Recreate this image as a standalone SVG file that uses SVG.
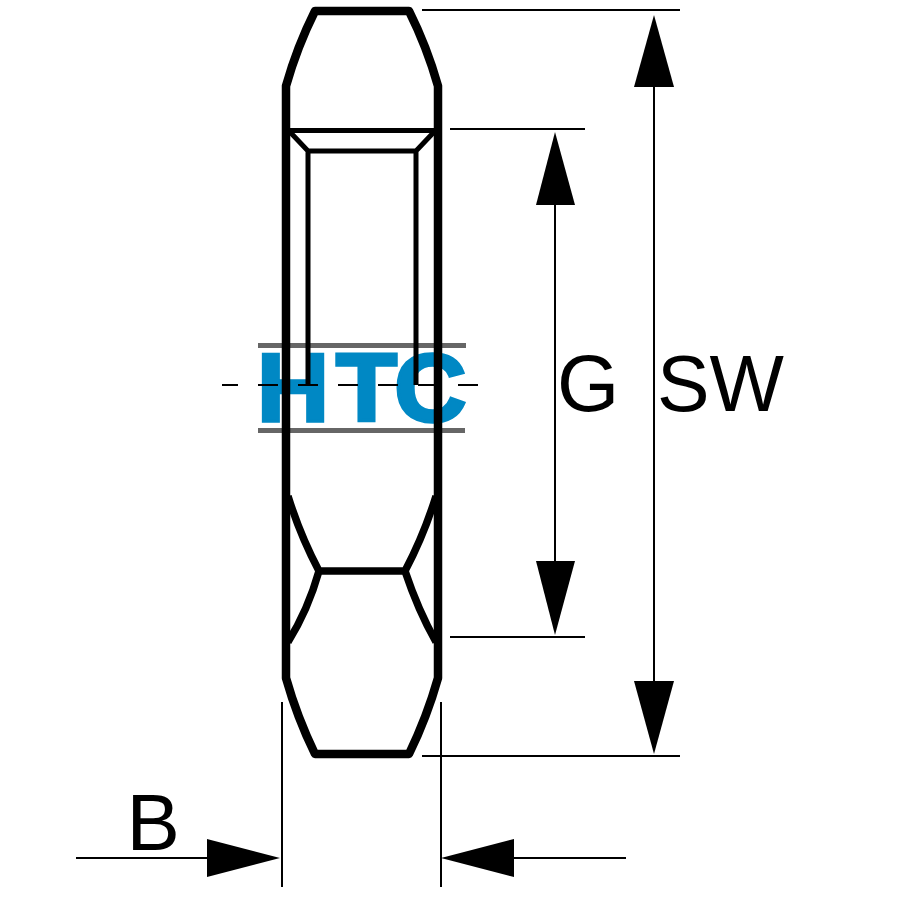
<svg xmlns="http://www.w3.org/2000/svg" width="900" height="900" viewBox="0 0 900 900">
<style>
.o{fill:none;stroke:#000;stroke-width:8.500;stroke-linejoin:round;stroke-linecap:round}
.x{fill:none;stroke:#000;stroke-width:7.500;stroke-linejoin:round;stroke-linecap:butt}
.m{fill:none;stroke:#000;stroke-width:5}
.d{fill:none;stroke:#000;stroke-width:2}
.a{fill:#000;stroke:none}
.t{font-family:"Liberation Sans",Arial,sans-serif;font-size:80px;fill:#000}
</style>
<rect width="900" height="900" fill="#fff"/>
<g id="logo">
<text transform="translate(0 421) scale(1.04 1)" x="247 323 379" y="0" font-family="'Liberation Sans',Arial,sans-serif" font-weight="700" font-size="96" fill="#0088c4" stroke="#0088c4" stroke-width="3.500" stroke-linejoin="miter" stroke-miterlimit="2">HTC</text>
<rect x="258" y="343" width="208" height="5" fill="#666"/>
<rect x="258" y="428" width="207" height="5" fill="#666"/>
</g>
<g id="nut">
<path class="o" d="M286 86Q297 47 315 11H409Q427 47 438 86V678Q427 717 409 754H315Q297 717 286 678Z"/>
<path class="x" d="M288 496Q300 535 319 571H405Q424 535 436 496M288 642Q308 610 319 571M405 571Q418 610 436 642"/>
<path class="m" d="M288 130.500H436M290 132L308 151H416L434 132M308 151V385M416 151V385"/>
</g>
<g id="connectors">
<path class="d" d="M422 10H680M422 756H680M450 129H585M450 637H585M654 60V710M555 180V590M282 702V887M441 702V887M76 858H240M480 858H626"/>
<path class="d" d="M222 385H238M258 385H278M298 385H318M338 385H358M378 385H398M418 385H438M458 385H478"/>
<polygon class="a" points="654,15 674,87 634,87"/>
<polygon class="a" points="654,754 634,681 674,681"/>
<polygon class="a" points="555,132 575,205 536,205"/>
<polygon class="a" points="555,635 536,561 575,561"/>
<polygon class="a" points="280,858 207,839 207,877"/>
<polygon class="a" points="441,858 514,839 514,877"/>
</g>
<g id="labels">
<text class="t" x="557" y="411">G</text>
<text class="t" x="657" y="411" textLength="127" lengthAdjust="spacingAndGlyphs">SW</text>
<text class="t" x="126.500" y="850">B</text>
</g>
</svg>
